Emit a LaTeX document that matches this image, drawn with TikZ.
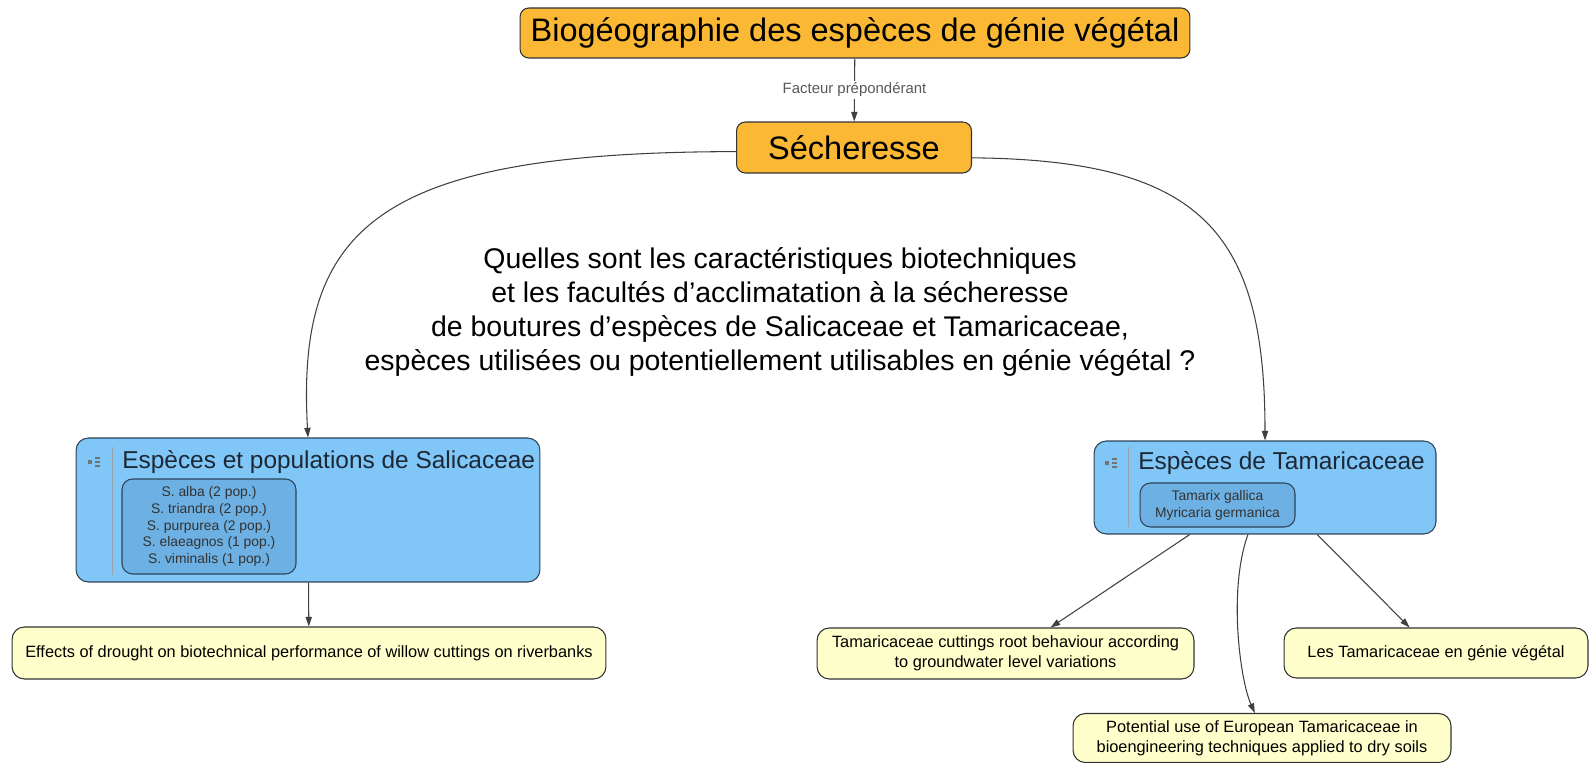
\documentclass[tikz,border=0pt]{standalone}
\usepackage{fontspec}
\setmainfont{Liberation Sans}
\usetikzlibrary{arrows.meta}
\definecolor{orangebox}{HTML}{FBB835}
\definecolor{bluebox}{HTML}{80C6F7}
\definecolor{bluesub}{HTML}{6DB0E3}
\definecolor{bluedark}{HTML}{2E4358}
\definecolor{yellowbox}{HTML}{FFFFCC}
\definecolor{linegray}{HTML}{404040}

\begin{document}
\begin{tikzpicture}[x=0.02cm,y=-0.02cm,
		box/.style={draw=black!80,line width=0.6pt,rounded corners=5pt,inner sep=0pt,align=center},
		main/.style={box,fill=orangebox,font=\fontsize{18.5}{22}\selectfont},
		group/.style={box,draw=bluedark,fill=bluebox,rounded corners=7pt},
		list/.style={box,draw=bluedark,fill=bluesub,text=black!80,rounded corners=6pt,font=\fontsize{7.9}{9.6}\selectfont},
		head/.style={anchor=west,inner sep=0pt,text=bluedark!60!black,font=\fontsize{13.9}{16}\selectfont},
		paper/.style={box,fill=yellowbox,rounded corners=7pt,font=\fontsize{9.3}{11.3}\selectfont},
		link/.style={linegray,line width=0.6pt,-{Triangle[length=5.5pt,width=3.6pt]}}]
			\useasboundingbox (0,0) rectangle (1591,763);
			
			\node[main,minimum width=13.4cm,minimum height=1cm] (bio) at (855,33) {Biogéographie des espèces de génie végétal};
			\node[main,minimum width=4.7cm,minimum height=1.02cm] (sech) at (854,147.5) {Sécheresse};
			\draw[link] (bio) -- node[midway,fill=white,inner sep=1pt,text=black!65,font=\fontsize{8.5}{10}\selectfont] (factor) {Facteur prépondérant} (sech);
			
			\node[align=center,inner sep=0pt,font=\fontsize{16.2}{19.3}\selectfont] (question) at (780,312) {Quelles sont les caractéristiques biotechniques\\et les facultés d’acclimatation à la sécheresse\\de boutures d’espèces de Salicaceae et Tamaricaceae,\\espèces utilisées ou potentiellement utilisables en génie végétal ?};
			
			\node[group,minimum width=9.28cm,minimum height=2.88cm] (salix) at (308,510) {};
			\node[head] (salixhead) at (122,462) {Espèces et populations de Salicaceae};
			\node[list,minimum width=3.48cm,minimum height=1.9cm] (salixlist) at (209,526.5) {S. alba (2 pop.)\\S. triandra (2 pop.)\\S. purpurea (2 pop.)\\S. elaeagnos (1 pop.)\\S. viminalis (1 pop.)};
			
			\node[group,minimum width=6.84cm,minimum height=1.86cm] (tamar) at (1265,487.5) {};
			\node[head] (tamarhead) at (1138,463) {Espèces de Tamaricaceae};
			\node[list,minimum width=3.1cm,minimum height=0.88cm] (tamarlist) at (1217.5,505) {Tamarix gallica\\Myricaria germanica};
			
			\draw[bluedark!50,line width=0.5pt] (112,447) -- (112,575);
			\draw[bluedark!50,line width=0.5pt] (1128,447) -- (1128,527);
			\foreach \x/\y in {94/462,1111/463} {
				\fill[black!55] (\x-6,\y-2) rectangle +(4,4);
				\foreach \d in {-4,0,4}
					\draw[black!55,line width=1.1pt] (\x+1,\y+\d) -- +(4.5,0);
			}
			
			\node[paper,minimum width=11.88cm,minimum height=1.04cm] (drought) at (309,653) {Effects of drought on biotechnical performance of willow cuttings on riverbanks};
			\node[paper,minimum width=7.54cm,minimum height=1.02cm] (roots) at (1005.5,653.5) {Tamaricaceae cuttings root behaviour according\\to groundwater level variations};
			\node[paper,minimum width=6.08cm,minimum height=1cm] (genie) at (1436,653) {Les Tamaricaceae en génie végétal};
			\node[paper,minimum width=7.56cm,minimum height=0.98cm] (drysoil) at (1262,738) {Potential use of European Tamaricaceae in\\bioengineering techniques applied to dry soils};
			
			\draw[link] (sech.182) .. controls (380,152) and (296,225) .. (salix.north);
			\draw[link] (sech.-5) .. controls (1200,160) and (1265,230) .. (tamar.north);
			\draw[link] (salix) -- (drought);
			\draw[link] (tamar.212) -- (roots.30);
			\draw[link] (tamar.-42) -- (genie.136);
			\draw[link] (tamar.-110) .. controls (1228,590) and (1240,680) .. (drysoil.106);
		\end{tikzpicture}
\end{document}
